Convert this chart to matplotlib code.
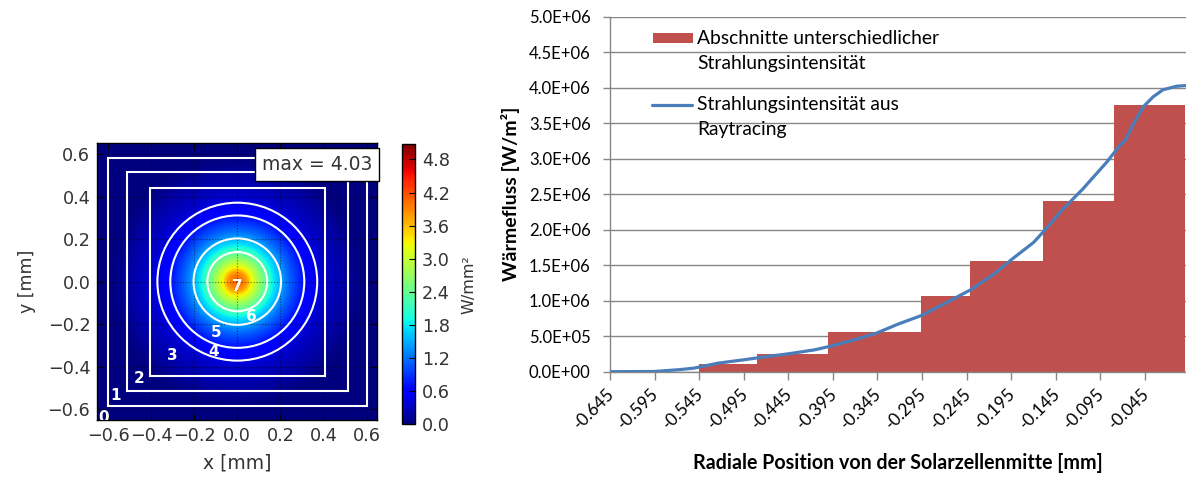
import numpy as np
import matplotlib
matplotlib.use("Agg")
import matplotlib.pyplot as plt
from matplotlib.patches import Rectangle, Circle
from matplotlib.lines import Line2D
from matplotlib.ticker import FuncFormatter
import matplotlib.transforms as mtransforms

# Radial heat-flux profile from ray tracing (position in mm, flux in W/m²)
profile_pos = [-0.645, -0.595, -0.566, -0.551, -0.524, -0.496, -0.464, -0.446,
               -0.416, -0.396, -0.371, -0.346, -0.322, -0.296, -0.272, -0.240,
               -0.215, -0.193, -0.170, -0.159, -0.137, -0.115, -0.088, -0.073,
               -0.067, -0.058, -0.047, -0.036, -0.025, -0.010, 0.0]
profile_flux = [0.0, 0.003e6, 0.03e6, 0.05e6, 0.12e6, 0.166e6, 0.222e6, 0.25e6,
                0.307e6, 0.364e6, 0.449e6, 0.544e6, 0.67e6, 0.79e6, 0.945e6, 1.157e6,
                1.37e6, 1.596e6, 1.82e6, 1.97e6, 2.29e6, 2.57e6, 2.95e6, 3.19e6,
                3.26e6, 3.49e6, 3.73e6, 3.87e6, 3.97e6, 4.02e6, 4.03e6]

# Stepped sections of constant irradiance
section_edges = [-0.545, -0.480, -0.400, -0.296, -0.241, -0.159, -0.080, 0.0]
section_flux = [0.11e6, 0.255e6, 0.565e6, 1.06e6, 1.555e6, 2.405e6, 3.76e6]

x_tick_values = [-0.645, -0.595, -0.545, -0.495, -0.445, -0.395, -0.345,
                 -0.295, -0.245, -0.195, -0.145, -0.095, -0.045]
y_tick_values = [0.0, 0.5e6, 1.0e6, 1.5e6, 2.0e6, 2.5e6, 3.0e6, 3.5e6,
                 4.0e6, 4.5e6, 5.0e6]

# Heat map of the cell surface
map_ticks = [-0.6, -0.4, -0.2, 0.0, 0.2, 0.4, 0.6]
cbar_ticks = [0.0, 0.6, 1.2, 1.8, 2.4, 3.0, 3.6, 4.2, 4.8]
flux_peak = 4.03
square_half_x = [0.600, 0.513, 0.406]
square_half_y = [0.582, 0.516, 0.441]
circle_radii = [0.371, 0.311, 0.203, 0.139]
zone_ids = ["0", "1", "2", "3", "4", "5", "6", "7"]
zone_label_x = [-0.62, -0.564, -0.455, -0.304, -0.109, -0.097, 0.066, 0.0]
zone_label_y = [-0.64, -0.534, -0.454, -0.349, -0.326, -0.24, -0.166, -0.024]

BAR_RED = "#C0504D"
LINE_BLUE = "#4A7EBB"
GRID_GREY = "#868686"
MAP_TEXT = "#333333"

fig = plt.figure(figsize=(11.86, 4.80), dpi=100)
W, H = 1186.0, 480.0


def frac(x0, y0, x1, y1):
    return [x0 / W, 1 - y1 / H, (x1 - x0) / W, (y1 - y0) / H]


# ---------------- left: flux map ----------------
ax1 = fig.add_axes(frac(97.3, 143.3, 377.3, 420.0))
g = np.linspace(-0.65, 0.65, 521)
X, Y = np.meshgrid(g, g)
R = np.hypot(X, Y)
flux_map = np.interp(-R, profile_pos, profile_flux, left=0.0) / 1e6
im = ax1.imshow(flux_map, extent=[-0.65, 0.65, -0.65, 0.65], origin="lower",
                cmap="jet", vmin=0.0, vmax=5.08, aspect="auto",
                interpolation="bilinear", zorder=0)
ax1.set_xlim(-0.65, 0.65)
ax1.set_ylim(-0.65, 0.65)
ax1.set_xticks(map_ticks)
ax1.set_yticks(map_ticks)
ax1.tick_params(direction="in", top=True, right=True, length=4, width=0.8,
                labelsize=12.7, labelcolor=MAP_TEXT, pad=5)
ax1.set_axisbelow(True)
ax1.grid(True, color="black", linestyle=":", linewidth=0.8, alpha=0.55)
for s in ax1.spines.values():
    s.set_color("black")
    s.set_linewidth(1.0)

for hx, hy in zip(square_half_x, square_half_y):
    ax1.add_patch(Rectangle((-hx, -hy), 2 * hx, 2 * hy, fill=False,
                            edgecolor="white", linewidth=1.5, zorder=2))
for r in circle_radii:
    ax1.add_patch(Circle((0, 0), r, fill=False, edgecolor="white",
                         linewidth=1.5, zorder=2))
for lbl, lx, ly in zip(zone_ids, zone_label_x, zone_label_y):
    ax1.text(lx, ly, lbl, color="white", fontsize=11, fontweight="bold",
             ha="center", va="center", clip_on=True, zorder=3)

ax1.text(0.785, 0.924, f"max = {flux_peak:.2f}", transform=ax1.transAxes,
         fontsize=13.5, color=MAP_TEXT, ha="center", va="center",
         bbox=dict(boxstyle="square,pad=0.38", facecolor="white",
                   edgecolor="black", linewidth=1.0), zorder=5, clip_on=False)

ax1.set_xlabel("x [mm]", fontsize=13.5, color=MAP_TEXT, labelpad=6)
ax1.set_ylabel("y [mm]", fontsize=12.5, color=MAP_TEXT, labelpad=8)

cax = fig.add_axes(frac(401.7, 144.0, 415.0, 424.3))
cbar = fig.colorbar(im, cax=cax, ticks=cbar_ticks)
cbar.ax.set_yticklabels([f"{t:.1f}" for t in cbar_ticks])
cbar.ax.tick_params(direction="in", length=4, width=0.8, labelsize=12.7,
                    labelcolor=MAP_TEXT, pad=5)
cbar.outline.set_edgecolor("black")
cbar.outline.set_linewidth(1.0)
cbar.set_label("W/mm²", fontsize=11.5, color=MAP_TEXT, labelpad=8)

# ---------------- right: radial profile ----------------
RFONT = "Lato"
ax2 = fig.add_axes(frac(610.0, 16.7, 1186.0, 371.7))
ax2.bar(section_edges[:-1], section_flux, width=np.diff(section_edges),
        align="edge", color=BAR_RED, linewidth=0, zorder=2)
ax2.plot(profile_pos, profile_flux, color=LINE_BLUE, linewidth=2.3,
         solid_capstyle="round", solid_joinstyle="round", zorder=3)
ax2.set_xlim(-0.645, 0.001)
ax2.set_ylim(0, 5.0e6)
ax2.set_yticks(y_tick_values)
ax2.yaxis.set_major_formatter(FuncFormatter(lambda v, p: f"{v:.1E}"))
ax2.set_xticks(x_tick_values)
ax2.set_xticklabels([f"{v:.3f}" for v in x_tick_values], rotation=45,
                    ha="right", va="top", rotation_mode="anchor")
ax2.yaxis.grid(True, color=GRID_GREY, linewidth=1.0, zorder=0)
ax2.set_axisbelow(True)
for side in ("top", "right"):
    ax2.spines[side].set_visible(False)
for side in ("left", "bottom"):
    ax2.spines[side].set_color(GRID_GREY)
    ax2.spines[side].set_linewidth(1.0)
ax2.tick_params(axis="y", direction="out", length=5, width=1.0, color=GRID_GREY,
                pad=9, labelsize=12.0, labelcolor="black")
ax2.tick_params(axis="x", direction="out", length=6, width=1.0, color=GRID_GREY,
                pad=4, labelsize=12.3, labelcolor="black")
for t in ax2.get_xticklabels() + ax2.get_yticklabels():
    t.set_fontfamily(RFONT)
offset = mtransforms.ScaledTranslation(-4 / 100, 0, fig.dpi_scale_trans)
for t in ax2.get_xticklabels():
    t.set_transform(t.get_transform() + offset)

ax2.set_xlabel("Radiale Position von der Solarzellenmitte [mm]", fontsize=14.1,
               fontweight="bold", fontfamily=RFONT, labelpad=15)
ax2.set_ylabel("Wärmefluss [W/m²]", fontsize=14, fontweight="bold",
               fontfamily=RFONT, labelpad=6)

# legend entries
ax2.add_patch(Rectangle((0.0747, 0.9246), 0.0694, 0.0296, transform=ax2.transAxes,
                        facecolor=BAR_RED, edgecolor="none", clip_on=False, zorder=4))
ax2.add_line(Line2D([0.0730, 0.1424], [0.7515, 0.7515], transform=ax2.transAxes,
                    color=LINE_BLUE, linewidth=2.3, solid_capstyle="round",
                    clip_on=False, zorder=4))
legend_lines = [("Abschnitte unterschiedlicher", 0.940),
                ("Strahlungsintensität", 0.867),
                ("Strahlungsintensität aus", 0.7515),
                ("Raytracing", 0.681)]
for txt, yy in legend_lines:
    ax2.text(0.151, yy, txt, transform=ax2.transAxes, fontsize=13.9,
             fontfamily=RFONT, ha="left", va="center", color="black", zorder=4)

fig.savefig("out.png", dpi=100)
